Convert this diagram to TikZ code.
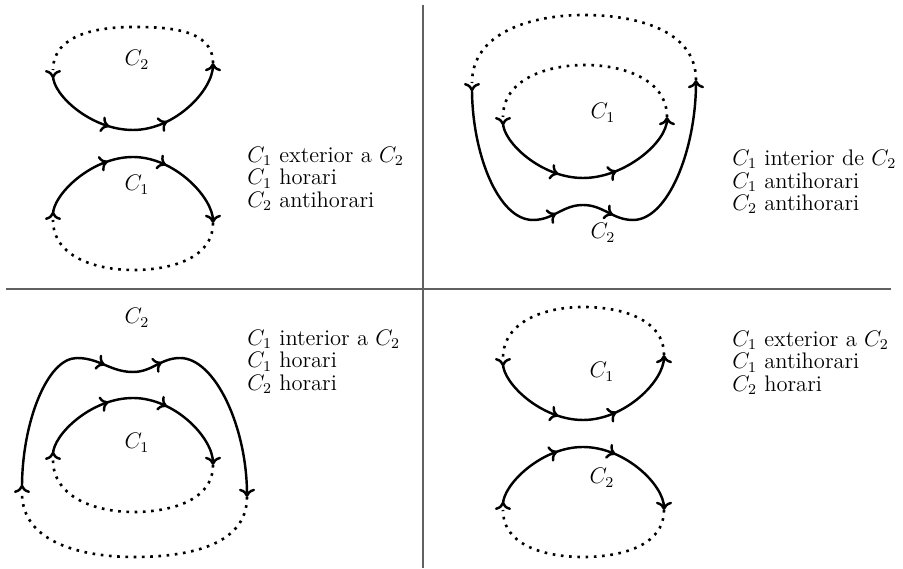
\documentclass[tikz,border=0pt]{standalone}
\usetikzlibrary{arrows, arrows.meta, decorations.markings}

\begin{document}
\begin{tikzpicture}[
            x = 0.5333pt, y = 0.5333pt, % one unit per pixel
            > = {To[length=4.4pt, width=8.6pt]}, % arrow head style
            every node/.style = {font=\fontsize{12pt}{12pt}\selectfont},
            midarrows/.style 2 args = {
                postaction = {decorate},
                decoration = {markings,
                    mark = at position #1 with {\arrow{>}},
                    mark = at position #2 with {\arrow{>}}}
            }
        ]

        \tikzstyle{solidarc}=[
            line width = 1.3pt,
            >->
        ]
        \tikzstyle{dotarc}=[
            line width = 1.4pt,
            dash pattern = on 1.4pt off 3pt
        ]
        \tikzstyle{divider}=[
            draw = black!62,
            line width = 0.8pt
        ]
        \tikzstyle{caption}=[
            anchor = west,
            align = left,
            inner sep = 0pt
        ]

        \useasboundingbox (0,0) rectangle (903,569);

        % quadrant dividers
        \draw[divider] (423,564) -- (423,1);
        \draw[divider] (6,280) -- (891,280);

        % top left: C1 exterior a C2
        \draw[solidarc, midarrows={0.38}{0.65}] (53,499) .. controls +(0,-25) and +(-42,0) .. (133,439) .. controls +(42,0) and +(0,-27) .. (213,506);
        \draw[dotarc] (213,506) to[out=90,in=0] (133,542) to[out=180,in=90] (53,499);
        \draw[solidarc, midarrows={0.38}{0.65}] (53,349) .. controls +(0,25) and +(-42,0) .. (133,412) .. controls +(42,0) and +(0,25) .. (213,346);
        \draw[dotarc] (213,346) to[out=-90,in=0] (133,299) to[out=180,in=-90] (53,349);
        \node (lc2a) at (137,509) {$C_2$};
        \node (lc1a) at (137,384) {$C_1$};
        \node (txta) [caption] at (247,390) {$C_1$ exterior a $C_2$\\ $C_1$ horari\\ $C_2$ antihorari};

        % top right: C1 interior de C2
        \draw[solidarc, midarrows={0.43}{0.57}] (472,486) .. controls +(0,-70) and +(-35,0) .. (533,349) to[out=0,in=180] (583,364) to[out=0,in=180] (633,349) .. controls +(35,0) and +(0,-70) .. (696,489);
        \draw[dotarc] (696,489) to[out=90,in=0] (584,554) to[out=180,in=90] (472,486);
        \draw[solidarc, midarrows={0.38}{0.65}] (503,452) .. controls +(0,-25) and +(-42,0) .. (583,391) .. controls +(42,0) and +(0,-25) .. (667,452);
        \draw[dotarc] (667,452) to[out=90,in=0] (585,504) to[out=180,in=90] (503,452);
        \node (lc1b) at (603,456) {$C_1$};
        \node (lc2b) at (603,336) {$C_2$};
        \node (txtb) [caption] at (732,387) {$C_1$ interior de $C_2$\\ $C_1$ antihorari\\ $C_2$ antihorari};

        % bottom left: C1 interior a C2
        \draw[solidarc, midarrows={0.43}{0.57}] (22,76) .. controls +(0,70) and +(-30,0) .. (77,211) to[out=0,in=180] (133,197) to[out=0,in=180] (180,211) .. controls +(35,0) and +(0,70) .. (247,72);
        \draw[dotarc] (247,72) to[out=-90,in=0] (134,12) to[out=180,in=-90] (22,76);
        \draw[solidarc, midarrows={0.38}{0.65}] (53,109) .. controls +(0,25) and +(-42,0) .. (133,171) .. controls +(42,0) and +(0,27) .. (213,104);
        \draw[dotarc] (213,104) to[out=-90,in=0] (133,57) to[out=180,in=-90] (53,109);
        \node (lc2c) at (137,251) {$C_2$};
        \node (lc1c) at (137,126) {$C_1$};
        \node (txtc) [caption] at (247,207) {$C_1$ interior a $C_2$\\ $C_1$ horari\\ $C_2$ horari};

        % bottom right: C1 exterior a C2
        \draw[solidarc, midarrows={0.38}{0.65}] (503,211) .. controls +(0,-25) and +(-42,0) .. (583,149) .. controls +(42,0) and +(0,-26) .. (664,214);
        \draw[dotarc] (664,214) to[out=90,in=0] (583,262) to[out=180,in=90] (503,211);
        \draw[solidarc, midarrows={0.38}{0.65}] (503,59) .. controls +(0,25) and +(-42,0) .. (583,122) .. controls +(42,0) and +(0,25) .. (664,59);
        \draw[dotarc] (664,59) to[out=-90,in=0] (583,12) to[out=180,in=-90] (503,59);
        \node (lc1d) at (602,197) {$C_1$};
        \node (lc2d) at (602,91) {$C_2$};
        \node (txtd) [caption] at (732,206) {$C_1$ exterior a $C_2$\\ $C_1$ antihorari\\ $C_2$ horari};

    \end{tikzpicture}
\end{document}
